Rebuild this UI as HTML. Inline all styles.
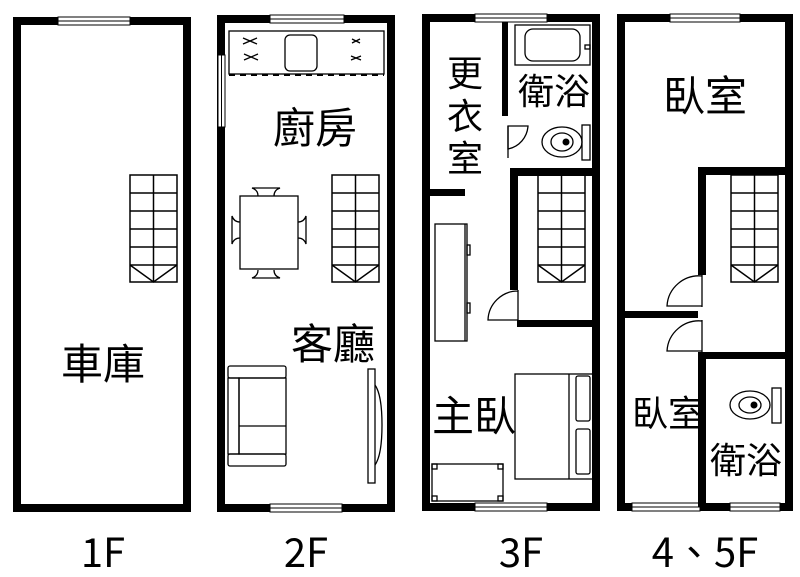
<!DOCTYPE html>
<html><head><meta charset="utf-8"><style>
html,body{margin:0;padding:0;background:#fff}
svg{display:block}
text{font-family:"Noto Sans CJK TC","Liberation Sans",sans-serif;fill:#000}
</style></head><body>
<svg width="800" height="577" viewBox="0 0 800 577" xmlns="http://www.w3.org/2000/svg">
<defs>
<g id="st" fill="none" stroke="#000" stroke-width="1.5">
<rect x="0" y="0" width="47" height="107"/>
<line x1="23.5" y1="0" x2="23.5" y2="107"/>
<line x1="0" y1="18" x2="47" y2="18"/>
<line x1="0" y1="36" x2="47" y2="36"/>
<line x1="0" y1="54" x2="47" y2="54"/>
<line x1="0" y1="72" x2="47" y2="72"/>
<line x1="0" y1="90" x2="47" y2="90"/>
<polyline points="0,90 23.5,107 47,90"/>
</g>
</defs>
<g fill="#000">
<rect x="13" y="17" width="178" height="8"/><rect x="13" y="504" width="178" height="8"/>
<rect x="13" y="17" width="8" height="495"/><rect x="183" y="17" width="8" height="495"/>
<rect x="58" y="17" width="72" height="8" fill="#fff" stroke="#000" stroke-width="1"/>
<line x1="58" y1="21" x2="130" y2="21" stroke="#000"/>
<rect x="217" y="15" width="178" height="8"/><rect x="217" y="504" width="178" height="8"/>
<rect x="217" y="15" width="8" height="497"/><rect x="387" y="15" width="8" height="497"/>
<rect x="270" y="15" width="74" height="8" fill="#fff" stroke="#000"/><line x1="270" y1="19" x2="344" y2="19" stroke="#000"/>
<rect x="270" y="504" width="72" height="8" fill="#fff" stroke="#000"/><line x1="270" y1="508" x2="342" y2="508" stroke="#000"/>
<rect x="218" y="55" width="7" height="72" fill="#fff" stroke="#000"/><line x1="221.5" y1="55" x2="221.5" y2="127" stroke="#000"/>
<rect x="422" y="14" width="178" height="8"/><rect x="422" y="503" width="178" height="8"/>
<rect x="422" y="14" width="8" height="497"/><rect x="592" y="14" width="8" height="497"/>
<rect x="475" y="14" width="72" height="8" fill="#fff" stroke="#000"/><line x1="475" y1="18" x2="547" y2="18" stroke="#000"/>
<rect x="475" y="503" width="72" height="8" fill="#fff" stroke="#000"/><line x1="475" y1="507" x2="547" y2="507" stroke="#000"/>
<rect x="502" y="22" width="6" height="94"/>
<rect x="430" y="189" width="35" height="7"/>
<rect x="510" y="168" width="90" height="8"/>
<rect x="510" y="168" width="8" height="122"/>
<rect x="517" y="320" width="75" height="7"/>
<rect x="617" y="14" width="176" height="8"/><rect x="617" y="503" width="176" height="8"/>
<rect x="617" y="14" width="8" height="497"/><rect x="785" y="14" width="8" height="497"/>
<rect x="670" y="14" width="70" height="8" fill="#fff" stroke="#000"/><line x1="670" y1="18" x2="740" y2="18" stroke="#000"/>
<rect x="632" y="503" width="68" height="8" fill="#fff" stroke="#000"/><line x1="632" y1="507" x2="700" y2="507" stroke="#000"/>
<rect x="730" y="503" width="50" height="8" fill="#fff" stroke="#000"/><line x1="730" y1="507" x2="780" y2="507" stroke="#000"/>
<rect x="698" y="167" width="95" height="8"/>
<rect x="698" y="167" width="8" height="108"/>
<rect x="625" y="311" width="73" height="7"/>
<rect x="698" y="352" width="95" height="7"/>
<rect x="698" y="352" width="8" height="155"/>
</g>
<use href="#st" x="130" y="175"/>
<use href="#st" x="332" y="175"/>
<use href="#st" x="538" y="175"/>
<use href="#st" x="731" y="175"/>
<g fill="none" stroke="#000" stroke-width="1.3">
<rect x="229" y="31" width="155" height="43"/>
<rect x="285" y="35" width="32" height="36" rx="5"/>
<path d="M243 38l14 6M243 44l14 -6M244 54l14 6M244 60l14 -6M352 39l8 4M352 43l8 -4M351 56l10 4M351 60l10 -4"/>
<line x1="229" y1="75" x2="384" y2="75" stroke-dasharray="6 5" stroke-width="2"/>
<rect x="240" y="196" width="58" height="73"/>
<path d="M258 196 q0 -6 -6 -8 h28 q-6 2 -6 8M258 270 q0 6 -6 8 h28 q-6 -2 -6 -8M240 222 q-6 0 -8 -6 v28 q2 -6 8 -6M298 222 q6 0 8 -6 v28 q-2 -6 -8 -6"/>
<rect x="228" y="366" width="58" height="12" rx="2"/>
<rect x="228" y="454" width="58" height="12" rx="2"/>
<rect x="228" y="378" width="11" height="76"/>
<rect x="239" y="378" width="47" height="76"/>
<line x1="239" y1="426" x2="286" y2="426"/>
<rect x="368" y="369" width="7" height="114"/>
<path d="M375 385 q7 10 7 40 q0 30 -7 40"/>
<rect x="515" y="25" width="75" height="40"/>
<rect x="525" y="29" width="55" height="32" rx="8"/>
<rect x="585" y="45" width="5" height="4"/>
<path d="M508 126 h20 a25 25 0 0 1 -20 23 z"/>
<line x1="508" y1="126" x2="508" y2="158"/>
<rect x="582" y="125" width="8" height="35"/>
<ellipse cx="562" cy="142" rx="20" ry="15"/>
<ellipse cx="562" cy="142" rx="11" ry="9"/>
<path d="M518 290 v30 M518 291 a30 30 0 0 0 -30 29 h30" />
<rect x="435" y="224" width="32" height="117"/>
<line x1="465" y1="224" x2="465" y2="341"/>
<rect x="467" y="245" width="3" height="10"/><rect x="467" y="303" width="3" height="10"/>
<rect x="515" y="374" width="78" height="105"/>
<line x1="569" y1="374" x2="569" y2="479"/>
<rect x="576" y="376" width="14" height="45" rx="2"/><rect x="576" y="429" width="14" height="45" rx="2"/>
<rect x="432" y="464" width="71" height="37"/>
<rect x="432" y="464" width="5" height="5"/><rect x="498" y="464" width="5" height="5"/><rect x="432" y="496" width="5" height="5"/><rect x="498" y="496" width="5" height="5"/>
<path d="M702 275 v32 M702 276 a32 32 0 0 0 -35 30 h35"/>
<path d="M702 320 v32 M702 321 a32 32 0 0 0 -35 30 h35"/>
<rect x="772" y="388" width="9" height="35"/>
<ellipse cx="750" cy="405" rx="20" ry="14"/>
<ellipse cx="750" cy="405" rx="11" ry="8"/>
</g>
<circle cx="566" cy="142" r="3.5" fill="#000"/>
<circle cx="754" cy="405" r="3.5" fill="#000"/>
<g font-size="42" text-anchor="middle">
<text x="103" y="379">車庫</text>
<text x="315" y="143">廚房</text>
<text x="333" y="359">客廳</text>
<text x="474" y="431">主臥</text>
<text x="705" y="111">臥室</text>
</g>
<g font-size="36" text-anchor="middle">
<text x="465" y="86">更</text>
<text x="465" y="129">衣</text>
<text x="465" y="171">室</text>
<text x="554" y="104">衛浴</text>
<text x="668" y="426">臥室</text>
<text x="746" y="473">衛浴</text>
</g>
<g font-size="40" text-anchor="middle">
<text x="103" y="567">1F</text>
<text x="306" y="567">2F</text>
<text x="521" y="567">3F</text>
<text x="705" y="567">4、5F</text>
</g>
</svg>
</body></html>
